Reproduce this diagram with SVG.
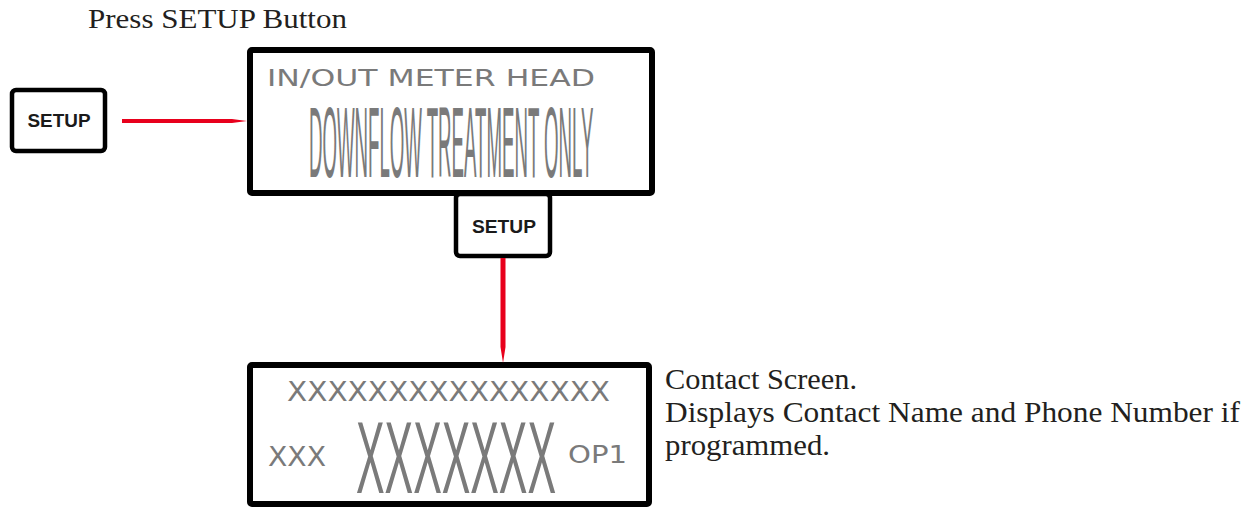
<svg xmlns="http://www.w3.org/2000/svg" width="1258" height="508" viewBox="0 0 1258 508">
<style>
.cap{font-family:"Liberation Serif","Times New Roman",serif;font-size:28px;fill:#231f20}
.note{font-size:29px}
.btn{fill:#fff;stroke:#000;stroke-width:4.5}
.btxt{font-family:"Liberation Sans",Arial,sans-serif;font-weight:bold;font-size:19px;fill:#1a1a1a;text-anchor:middle}
.lcd{fill:#fff;stroke:#000;stroke-width:6}
.lt{font-family:"DejaVu Sans","Liberation Sans",sans-serif;fill:#7a7a7a}
.big{font-family:"Liberation Sans",Arial,sans-serif;fill:#7a7a7a}
.arr{fill:#e8001c}
</style>
<rect width="1258" height="508" fill="#fff"/>
<text class="cap" x="88" y="28" textLength="259" lengthAdjust="spacingAndGlyphs">Press SETUP Button</text>

<g id="btn1">
<rect class="btn" x="12" y="90" width="93" height="61" rx="4"/>
<text class="btxt" x="59" y="127" textLength="63" lengthAdjust="spacingAndGlyphs">SETUP</text>
</g>

<g id="screen1">
<rect class="lcd" x="250" y="50" width="402" height="143" rx="2"/>
<text class="lt" x="267" y="86" font-size="23" textLength="328" lengthAdjust="spacingAndGlyphs">IN/OUT METER HEAD</text>
<text class="big" transform="translate(309,177) scale(0.1865,1)" x="0" y="0" font-size="100">DOWNFLOW TREATMENT ONLY</text>
</g>

<g id="btn2">
<rect class="btn" x="456" y="194" width="94" height="62" rx="4"/>
<rect x="450" y="191" width="106" height="5" fill="#000"/>
<text class="btxt" x="504" y="233" textLength="64" lengthAdjust="spacingAndGlyphs">SETUP</text>
</g>

<g id="screen2">
<rect class="lcd" x="250" y="365" width="399" height="139" rx="2"/>
<text class="lt" x="287" y="401" font-size="26" textLength="323" lengthAdjust="spacingAndGlyphs">XXXXXXXXXXXXXXXX</text>
<text class="lt" x="268" y="466" font-size="26" textLength="58" lengthAdjust="spacingAndGlyphs">XXX</text>
<text class="big" transform="translate(356,493) scale(0.42,1)" x="0" y="0" font-size="102">XXXXXXX</text>
<text class="lt" x="568" y="463" font-size="25" textLength="59" lengthAdjust="spacingAndGlyphs">OP1</text>
</g>

<g id="connectors">
<polygon class="arr" points="122,119 232,119 247,121 232,123 122,123"/>
<polygon class="arr" points="500.5,258 505.5,258 505.5,347 503,363 500.5,347"/>
</g>

<g id="note">
<text class="cap note" x="665" y="389" textLength="192" lengthAdjust="spacingAndGlyphs">Contact Screen.</text>
<text class="cap note" x="665" y="422" textLength="575" lengthAdjust="spacingAndGlyphs">Displays Contact Name and Phone Number if</text>
<text class="cap note" x="665" y="455" textLength="165" lengthAdjust="spacingAndGlyphs">programmed.</text>
</g>
</svg>
